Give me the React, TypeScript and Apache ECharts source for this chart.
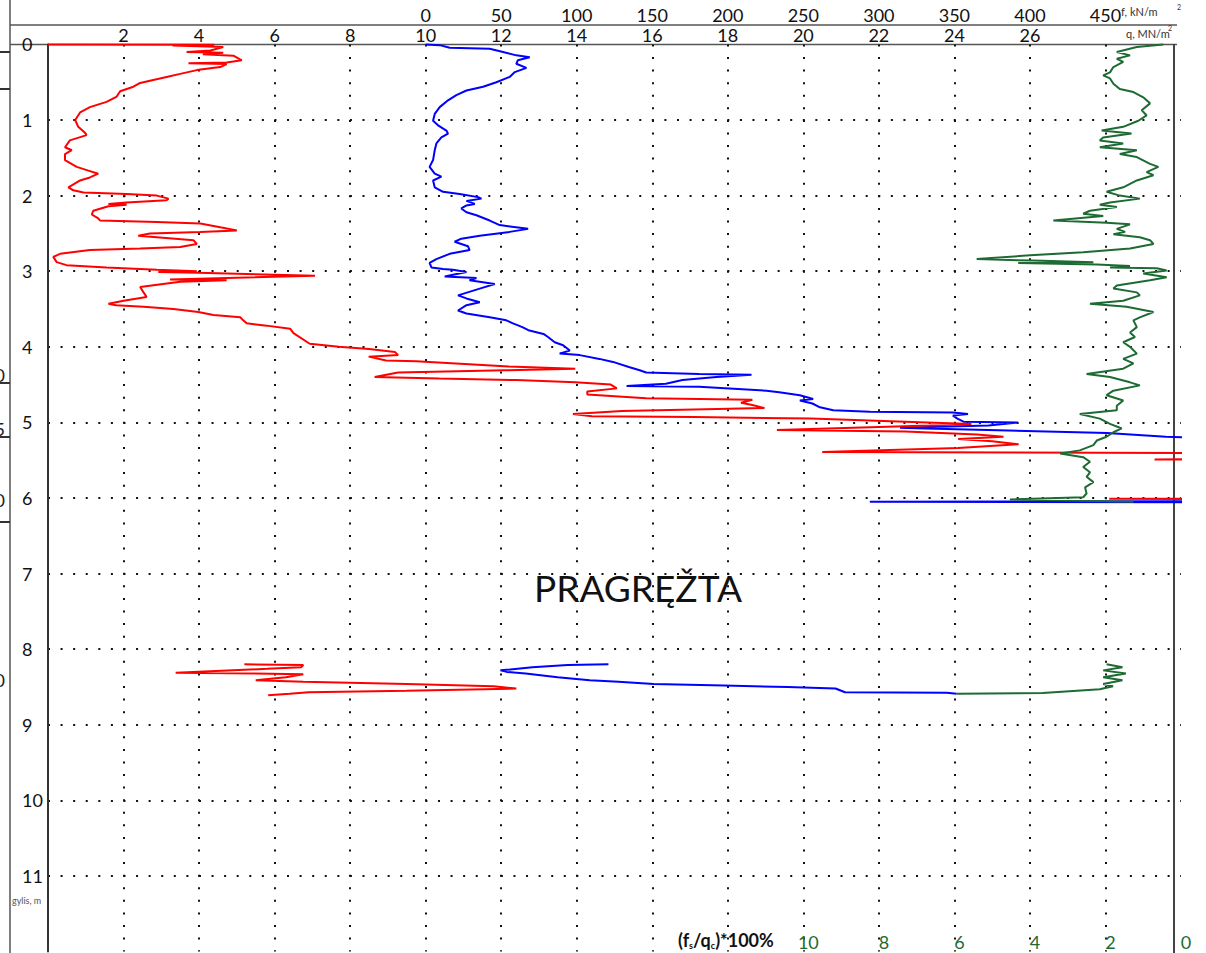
import React, { useEffect, useRef } from "react";
import * as echarts from "echarts";

// ---- DATA (depth m, value) ----
// cone resistance qc, MN/m2 (red)
const qcUpper: [number, number][] = [
  [0, 0], [0.005, 4.4], [0.015, 3.3], [0.035, 4.64], [0.08, 4.3], [0.1, 3.67], [0.11, 4.64], [0.13, 4.1],
  [0.15, 4.91], [0.21, 5.13], [0.24, 4.73], [0.25, 3.72], [0.26, 4.73], [0.3, 4.56], [0.34, 3.94], [0.39, 3.5],
  [0.43, 3.14], [0.48, 2.7], [0.51, 2.44], [0.56, 2.26], [0.62, 1.91], [0.69, 1.82], [0.76, 1.55], [0.83, 1.11],
  [0.9, 0.85], [1.0, 0.72], [1.09, 0.8], [1.17, 0.98], [1.2, 1.02], [1.27, 0.58], [1.36, 0.45], [1.4, 0.63],
  [1.45, 0.45], [1.53, 0.45], [1.62, 0.76], [1.67, 1.07], [1.71, 1.33], [1.76, 1.11], [1.8, 0.85], [1.89, 0.54],
  [1.93, 0.67], [1.96, 0.94], [1.98, 2.08], [2.0, 2.88], [2.04, 3.19], [2.06, 3.14], [2.09, 2.08], [2.11, 1.6],
  [2.12, 2.08], [2.14, 1.6], [2.2, 1.2], [2.25, 1.16], [2.3, 1.33], [2.33, 1.38], [2.35, 2.88], [2.37, 4.03],
  [2.42, 4.56], [2.46, 5.0], [2.48, 4.03], [2.5, 2.7], [2.53, 2.39], [2.55, 2.88], [2.59, 3.85], [2.64, 3.94],
  [2.68, 3.5], [2.7, 2.44], [2.72, 1.11], [2.77, 0.32], [2.81, 0.14], [2.88, 0.23], [2.92, 0.49], [2.95, 1.55],
  [2.98, 2.88], [3.0, 3.94], [3.01, 2.92], [3.02, 3.98], [3.06, 7.07], [3.11, 3.23], [3.12, 4.73], [3.14, 3.5],
  [3.21, 2.44], [3.28, 2.53], [3.34, 2.61], [3.39, 2.0], [3.43, 1.6], [3.45, 1.8], [3.47, 2.53], [3.5, 3.32],
  [3.54, 3.98], [3.58, 4.38], [3.61, 5.09], [3.65, 5.17], [3.69, 5.26], [3.72, 5.79], [3.76, 6.41], [3.82, 6.5],
  [3.96, 6.93], [4.0, 7.7], [4.03, 8.5], [4.07, 9.19], [4.11, 9.27], [4.13, 8.49], [4.18, 8.95], [4.19, 9.75],
  [4.22, 10.8], [4.26, 12.2], [4.29, 13.96], [4.31, 12.1], [4.34, 9.27], [4.4, 8.65], [4.42, 10.36], [4.44, 12.4],
  [4.47, 13.96], [4.5, 14.9], [4.55, 15.06], [4.59, 14.28], [4.63, 14.28], [4.68, 15.84], [4.7, 18.65], [4.74, 18.35],
  [4.77, 18.65], [4.81, 18.97], [4.83, 17.1], [4.85, 15.2], [4.89, 13.9], [4.92, 14.4], [4.93, 17.1], [4.95, 20.2],
  [4.99, 22.7], [5.02, 24.45], [5.04, 23.35], [5.1, 19.3], [5.12, 22.7], [5.16, 24.6], [5.19, 25.3], [5.22, 24.1],
  [5.25, 25.0], [5.29, 25.7], [5.34, 24.1], [5.39, 20.5], [5.42, 40], [5.47, 40], [5.49, 29.3], [5.5, 40],
  [6.0, 40], [6.01, 28.1], [6.02, 40],
];
const qcLower: [number, number][] = [
  [8.2, 5.2], [8.21, 6.76], [8.24, 6.7], [8.26, 5.8], [8.31, 3.38], [8.33, 6.76], [8.37, 6.3], [8.41, 5.5],
  [8.43, 6.76], [8.46, 9.5], [8.49, 11.8], [8.52, 12.4], [8.55, 9.5], [8.57, 6.9], [8.59, 6.4], [8.61, 5.83],
];

// sleeve friction fs, kN/m2 (blue)
const fsUpper: [number, number][] = [
  [0, 0], [0.01, 9.3], [0.044, 15.9], [0.057, 42.4], [0.1, 51.2], [0.145, 60], [0.17, 68.9], [0.21, 61],
  [0.256, 60], [0.31, 66.7], [0.366, 59], [0.43, 55.6], [0.5, 46.8], [0.56, 38], [0.61, 27], [0.67, 20.3],
  [0.74, 14.8], [0.83, 9.3], [0.92, 6.0], [1.01, 4.9], [1.07, 8.2], [1.14, 13.7], [1.18, 14.8], [1.23, 10.4],
  [1.31, 7.1], [1.4, 6.0], [1.53, 4.9], [1.62, 2.6], [1.71, 6.0], [1.75, 10.4], [1.8, 4.9], [1.89, 6.0],
  [1.95, 11.5], [1.98, 22.5], [2.02, 34.7], [2.04, 36.9], [2.07, 27], [2.11, 32.5], [2.13, 27], [2.17, 23.6],
  [2.22, 27], [2.26, 33.6], [2.33, 42.4], [2.39, 49], [2.44, 67.8], [2.48, 55.6], [2.53, 35.8], [2.57, 23.6],
  [2.61, 19.2], [2.67, 28], [2.72, 29.1], [2.77, 15.9], [2.84, 7.1], [2.89, 2.6], [2.95, 3.8], [2.97, 11.5],
  [2.98, 18.1], [3.01, 27], [3.07, 12.6], [3.09, 33.6], [3.12, 29], [3.17, 45.7], [3.23, 35.8], [3.32, 21.4],
  [3.36, 27], [3.41, 35.8], [3.45, 27], [3.52, 21.4], [3.56, 27], [3.61, 42.4], [3.65, 53.4], [3.69, 57.8],
  [3.74, 64], [3.78, 68], [3.83, 78], [3.87, 81], [3.94, 85.4], [3.98, 91], [4.05, 95.4], [4.09, 88.7],
  [4.11, 102], [4.16, 115], [4.2, 124], [4.27, 135], [4.31, 141.7], [4.34, 146], [4.36, 181], [4.37, 215.7],
  [4.4, 192.5], [4.44, 170], [4.49, 159], [4.52, 133], [4.53, 181], [4.58, 225.6], [4.6, 234], [4.64, 247.7],
  [4.69, 256.5], [4.71, 247.7], [4.75, 256], [4.8, 261], [4.84, 269.8], [4.86, 294], [4.87, 349], [4.89, 359],
  [4.91, 349], [4.95, 352], [4.99, 356], [5.0, 392], [5.04, 372.6], [5.07, 314], [5.08, 331], [5.1, 372],
  [5.14, 451], [5.19, 490], [5.23, 560], [5.31, 560], [5.32, 509], [5.33, 560], [6.04, 560], [6.05, 294],
  [6.06, 560],
];
const fsLower: [number, number][] = [
  [8.2, 121], [8.21, 94], [8.24, 70.6], [8.28, 49.5], [8.3, 53.7], [8.32, 66.2], [8.37, 87.4], [8.41, 108.6],
  [8.43, 127.6], [8.46, 150.9], [8.48, 197.4], [8.5, 239.6], [8.52, 271.3], [8.57, 277.6], [8.575, 345], [8.59, 351.5],
];

// friction ratio (fs/qc)*100 % (green)
const rfUpper: [number, number][] = [
  [0, 0.47], [0.035, 1.17], [0.1, 1.7], [0.145, 1.35], [0.19, 1.7], [0.23, 1.53], [0.3, 1.79], [0.37, 1.88],
  [0.41, 2.06], [0.45, 1.88], [0.52, 1.79], [0.59, 1.62], [0.63, 1.26], [0.7, 1.0], [0.78, 0.82], [0.87, 1.04],
  [0.94, 0.91], [1.01, 1.13], [1.09, 1.53], [1.14, 2.1], [1.18, 1.31], [1.23, 2.06], [1.27, 2.15], [1.31, 1.53],
  [1.36, 2.15], [1.4, 1.17], [1.45, 1.62], [1.49, 1.17], [1.58, 0.82], [1.62, 0.6], [1.69, 0.91], [1.73, 0.73],
  [1.8, 1.17], [1.89, 1.53], [1.95, 1.97], [2.0, 1.62], [2.04, 1.09], [2.09, 1.88], [2.12, 2.15], [2.15, 1.7],
  [2.2, 2.41], [2.24, 2.59], [2.27, 2.06], [2.33, 3.38], [2.36, 1.97], [2.38, 1.35], [2.44, 1.7], [2.48, 1.48],
  [2.51, 1.79], [2.55, 1.09], [2.59, 0.82], [2.64, 0.73], [2.7, 1.35], [2.75, 2.59], [2.79, 4.0], [2.84, 5.41],
  [2.86, 3.91], [2.88, 2.32], [2.89, 4.31], [2.91, 2.23], [2.93, 1.35], [2.95, 1.88], [2.96, 0.64], [2.99, 0.38],
  [3.03, 1.0], [3.08, 0.38], [3.12, 0.82], [3.19, 1.7], [3.23, 1.79], [3.28, 1.17], [3.32, 1.09], [3.39, 1.53],
  [3.43, 2.41], [3.47, 1.44], [3.54, 0.73], [3.61, 1.09], [3.65, 1.26], [3.74, 1.17], [3.81, 1.35], [3.87, 1.22],
  [3.94, 1.53], [4.0, 1.35], [4.09, 1.17], [4.16, 1.53], [4.22, 1.26], [4.29, 1.53], [4.36, 2.5], [4.4, 1.88],
  [4.47, 1.35], [4.51, 1.09], [4.58, 1.79], [4.64, 1.97], [4.71, 1.53], [4.78, 1.7], [4.84, 1.7], [4.89, 2.68],
  [4.95, 2.15], [5.02, 1.88], [5.08, 1.57], [5.13, 1.79], [5.19, 1.97], [5.24, 2.23], [5.3, 2.32], [5.37, 2.68],
  [5.41, 3.2], [5.46, 2.59], [5.52, 2.41], [5.59, 2.59], [5.66, 2.41], [5.72, 2.5], [5.79, 2.32], [5.86, 2.54],
  [5.94, 2.5], [5.99, 2.59], [6.02, 4.53], [6.05, 1.26],
];
const rfLower: [number, number][] = [
  [8.2, 1.97], [8.24, 1.55], [8.28, 2.06], [8.32, 1.46], [8.37, 2.06], [8.41, 1.55], [8.46, 2.06], [8.49, 1.8],
  [8.53, 2.15], [8.58, 3.66], [8.59, 5.94],
];

// axis ranges / tick labels
const depthMax = 12;
const qcRange = [0, 30];
const fsRange = [-250, 500];
const rfRange = [0, 30];
const qcLabelRange = [2, 26];
const fsLabelRange = [0, 450];
const rfLabelMax = 10;

// clipped labels of a neighbouring chart at the very left edge
const edgeLabels = ["0", "5", "0", "0"];

const FONT = "Lato, 'Open Sans', sans-serif";
const GREEN = "#1d6b32";

const toXY = (rows: [number, number][]) => rows.map(([d, v]) => [v, d]);
const joined = (a: [number, number][], b: [number, number][]) => [...toXY(a), ["-", "-"], ...toXY(b)];

const dotted = { color: "#111", width: 2, type: [2, 10.58] as number[] };

export default function App() {
  const ref = useRef<HTMLDivElement>(null);
  useEffect(() => {
    const el = ref.current!;
    const chart = echarts.init(el, null, { renderer: "svg" });
    const gridLeft = 48;
    const gridTop = 44.4;
    const gridW = 1133;
    const gridH = 907.2;
    const txt = (text: string, x: number, y: number, font: string, fill: string, align = "left") => ({
      type: "text",
      style: { text, x, y, fill, font, align, verticalAlign: "middle", textAlign: align, textVerticalAlign: "middle" },
    });
    const hline = (x1: number, x2: number, y: number, stroke = "#555", w = 1.5) => ({
      type: "line", shape: { x1, y1: y, x2, y2: y }, style: { stroke, lineWidth: w },
    });
    const edgeY = [375, 429, 500, 680];
    const edgeTicks = [52, 89, 383, 437, 522];
    const option: any = {
      animation: false,
      backgroundColor: "#ffffff",
      grid: { left: gridLeft, top: gridTop, width: gridW, height: gridH, containLabel: false, outerBoundsMode: "none" },
      xAxis: [
        {
          type: "value", position: "top", min: qcRange[0], max: qcRange[1], interval: 2,
          axisLine: { show: false }, axisTick: { show: false },
          axisLabel: {
            margin: 0, color: "#111", fontSize: 18, fontFamily: FONT,
            formatter: (v: number) => (v >= qcLabelRange[0] && v <= qcLabelRange[1] ? String(v) : ""),
          },
          splitLine: { show: true, showMinLine: false, showMaxLine: false, lineStyle: dotted },
        },
        {
          type: "value", position: "top", offset: 20, min: fsRange[0], max: fsRange[1], interval: 50,
          axisLine: { show: false }, axisTick: { show: false }, splitLine: { show: false },
          axisLabel: {
            margin: 0, color: "#111", fontSize: 18, fontFamily: FONT,
            formatter: (v: number) => (v >= fsLabelRange[0] && v <= fsLabelRange[1] ? String(v) : ""),
          },
        },
        {
          type: "value", position: "bottom", inverse: true, min: rfRange[0], max: rfRange[1], interval: 2,
          axisLine: { show: false }, axisTick: { show: false }, splitLine: { show: false },
          axisLabel: {
            inside: true, margin: 1, color: GREEN, fontSize: 18, fontFamily: FONT, padding: [0, 0, 0, 10],
            formatter: (v: number) => (v <= rfLabelMax ? String(v) : ""),
          },
        },
      ],
      yAxis: {
        type: "value", inverse: true, min: 0, max: depthMax, interval: 1,
        axisLine: { show: true, lineStyle: { color: "#333", width: 2 } },
        axisTick: { show: false },
        axisLabel: {
          align: "left", margin: 26, color: "#111", fontSize: 18, fontFamily: FONT,
          formatter: (v: number) => (v < depthMax ? String(v) : ""),
        },
        splitLine: { show: true, showMinLine: false, showMaxLine: false, lineStyle: dotted },
      },
      series: [
        {
          name: "fs", type: "line", xAxisIndex: 1, data: joined(fsUpper, fsLower), showSymbol: false, symbol: "none",
          clip: false, connectNulls: false, lineStyle: { color: "#0000ff", width: 2 }, silent: true,
        },
        {
          name: "qc", type: "line", xAxisIndex: 0, data: joined(qcUpper, qcLower), showSymbol: false, symbol: "none",
          clip: false, connectNulls: false, lineStyle: { color: "#ff0000", width: 2 }, silent: true,
        },
        {
          name: "Rf", type: "line", xAxisIndex: 2, data: joined(rfUpper, rfLower), showSymbol: false, symbol: "none",
          clip: false, connectNulls: false, lineStyle: { color: GREEN, width: 2 }, silent: true,
        },
      ],
      graphic: [
        { type: "line", shape: { x1: 10, y1: 0, x2: 10, y2: 953 }, style: { stroke: "#555", lineWidth: 1.5 } },
        hline(10, 1177, 25),
        hline(10, 1177, 44.4),
        { type: "line", shape: { x1: 1174, y1: 44, x2: 1174, y2: 953 }, style: { stroke: "#444", lineWidth: 2 } },
        ...edgeTicks.map((y) => hline(0, 10, y, "#333", 2)),
        ...edgeLabels.map((t, i) => txt(t, 5, edgeY[i], `18px ${FONT}`, "#222", "right")),
        txt("PRAGRĘŽTA", 638, 587, `37px ${FONT}`, "#111", "center"),
        txt("f, kN/m", 1121, 11, `11px ${FONT}`, "#333"),
        txt("2", 1177, 7, `7px ${FONT}`, "#333"),
        txt("q, MN/m", 1126, 33, `11px ${FONT}`, "#333"),
        txt("2", 1168, 28, `7px ${FONT}`, "#333"),
        txt("gylis, m", 12, 900, `9px ${FONT}`, "#555"),
        {
          type: "text",
          style: {
            text: "{a|(f}{s|s}{a|/q}{s|c}{a|)*100%}", x: 678, y: 940, fill: "#111",
            align: "left", verticalAlign: "middle", textAlign: "left", textVerticalAlign: "middle",
            rich: {
              a: { fontSize: 18, fontWeight: "bold", fontFamily: FONT, fill: "#111", color: "#111" },
              s: { fontSize: 9, fontWeight: "bold", fontFamily: FONT, fill: "#111", color: "#111", padding: [10, 0, 0, 0] },
            },
          },
        },
      ],
    };
    chart.setOption(option);
    return () => chart.dispose();
  }, []);
  return (
    <div
      ref={ref}
      style={{ position: "absolute", left: 0, top: 0, width: 1206, height: 953, background: "#fff", overflow: "hidden" }}
    />
  );
}
